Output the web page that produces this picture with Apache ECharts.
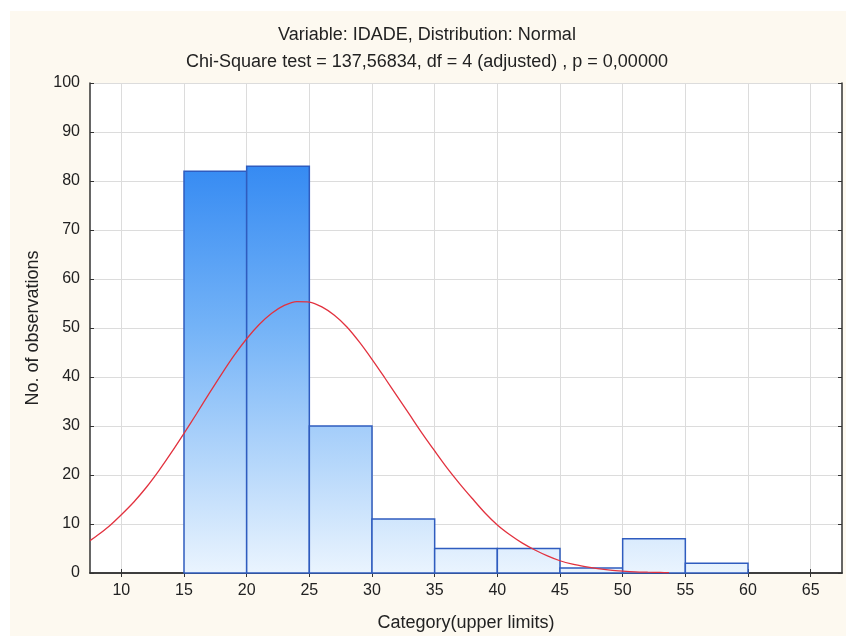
<!DOCTYPE html>
<html>
<head>
<meta charset="utf-8">
<script src="https://cdn.jsdelivr.net/npm/echarts@6/dist/echarts.min.js"></script>
<style>
  html,body{margin:0;padding:0;background:#fff;}
  #wrap{position:absolute;left:10px;top:11px;width:836px;height:625px;background:#fdf9f0;}
  #main{width:854px;height:640px;position:absolute;left:0;top:0;}
</style>
</head>
<body>
<div id="wrap"></div>
<div id="main"></div>
<script>
// histogram bins (upper limits) and counts
var binLow = [15, 20, 25, 30, 35, 40, 45, 50, 55]
var binHigh = [20, 25, 30, 35, 40, 45, 50, 55, 60]
var counts = [82, 83, 30, 11, 5, 5, 1, 7, 2]

// fitted normal curve
var curveX = [7.5, 8, 9, 10, 11, 12, 13, 14, 15, 16, 17, 18, 19, 20, 21, 22, 23, 24, 25, 26, 27, 28, 29, 30,
  31, 32, 33, 34, 35, 36, 37, 38, 39, 40, 41, 42, 43, 44, 45, 46, 47, 48, 49, 50, 51, 52, 53, 53.7]
var curveY = [6.6, 7.5, 9.5, 11.9, 14.5, 17.5, 20.9, 24.6, 28.5, 32.5, 36.6, 40.6, 44.4, 47.8, 50.7, 53.0, 54.6, 55.4, 55.3, 54.3,
  52.6, 50.2, 47.1, 43.6, 39.9, 36.1, 32.3, 28.5, 24.9, 21.4, 18.2, 15.2, 12.3, 9.8, 7.8, 6.1, 4.7, 3.5, 2.5, 1.8,
  1.3, 0.9, 0.6, 0.4, 0.25, 0.17, 0.11, 0.08]

var xTicks = [10, 15, 20, 25, 30, 35, 40, 45, 50, 55, 60, 65]

var FONT = '"Liberation Sans", Arial, sans-serif'

var myChart = echarts.init(document.getElementById('main'))

var barData = binLow.map(function (lo, i) { return [lo, binHigh[i], counts[i]] })
var lineData = curveX.map(function (x, i) { return [x, curveY[i]] })

var option = {
  animation: false,
  backgroundColor: 'transparent',
  title: [
    {
      text: 'Variable: IDADE, Distribution: Normal',
      left: 'center', top: 21,
      textStyle: { fontFamily: FONT, fontSize: 18, fontWeight: 'normal', color: '#222' }
    },
    {
      text: 'Chi-Square test = 137,56834, df = 4 (adjusted) , p = 0,00000',
      left: 'center', top: 48,
      textStyle: { fontFamily: FONT, fontSize: 18, fontWeight: 'normal', color: '#222' }
    }
  ],
  grid: { left: 90, right: 12, top: 83, bottom: 67, backgroundColor: '#fff', show: true, borderWidth: 0 },
  xAxis: [
    {
      type: 'value', min: 7.5, max: 67.5,
      name: 'Category(upper limits)', nameLocation: 'middle', nameGap: 41,
      nameTextStyle: { fontFamily: FONT, fontSize: 18, color: '#222' },
      axisLine: { show: true, lineStyle: { color: '#333', width: 1.5 } },
      axisTick: { show: true, inside: true, length: 4, lineStyle: { color: '#333' }, customValues: xTicks },
      axisLabel: { fontFamily: FONT, fontSize: 16, color: '#222', margin: 10, customValues: xTicks },
      splitLine: { show: true, lineStyle: { color: '#dcdcdc' } }
    },
    {
      type: 'value', min: 7.5, max: 67.5, position: 'top',
      axisLine: { show: true, lineStyle: { color: '#333', width: 1.5 } },
      axisTick: { show: true, inside: true, length: 4, lineStyle: { color: '#333' }, customValues: xTicks },
      axisLabel: { show: false },
      splitLine: { show: false }
    }
  ],
  yAxis: [
    {
      type: 'value', min: 0, max: 100, interval: 10,
      name: 'No. of observations', nameLocation: 'middle', nameGap: 48,
      nameTextStyle: { fontFamily: FONT, fontSize: 18, color: '#222' },
      axisLine: { show: true, lineStyle: { color: '#333', width: 1.5 } },
      axisTick: { show: true, inside: true, length: 4, lineStyle: { color: '#333' } },
      axisLabel: { fontFamily: FONT, fontSize: 16, color: '#222', margin: 10 },
      splitLine: { show: true, lineStyle: { color: '#dcdcdc' } }
    },
    {
      type: 'value', min: 0, max: 100, interval: 10, position: 'right',
      axisLine: { show: true, lineStyle: { color: '#333', width: 1.5 } },
      axisTick: { show: true, inside: true, length: 4, lineStyle: { color: '#333' } },
      axisLabel: { show: false },
      splitLine: { show: false }
    }
  ],
  series: [
    {
      type: 'custom',
      name: 'observations',
      xAxisIndex: 0, yAxisIndex: 0,
      data: barData,
      encode: { x: [0, 1], y: 2 },
      renderItem: function (params, api) {
        var p1 = api.coord([api.value(0), api.value(2)])
        var p2 = api.coord([api.value(1), 0])
        return {
          type: 'rect',
          shape: { x: p1[0], y: p1[1], width: p2[0] - p1[0], height: p2[1] - p1[1] },
          style: {
            fill: new echarts.graphic.LinearGradient(0, 83, 0, 573, [
              { offset: 0, color: '#1676f0' },
              { offset: 0.5, color: '#74b3f7' },
              { offset: 1, color: '#eaf4fe' }
            ], true),
            stroke: '#2f5cbf',
            lineWidth: 1.5
          }
        }
      },
      z: 2
    },
    {
      type: 'line',
      name: 'Normal',
      data: lineData,
      smooth: 0.3,
      symbol: 'none',
      lineStyle: { color: '#e2323f', width: 1.3 },
      z: 3
    }
  ]
}

option && myChart.setOption(option)
</script>
</body>
</html>
